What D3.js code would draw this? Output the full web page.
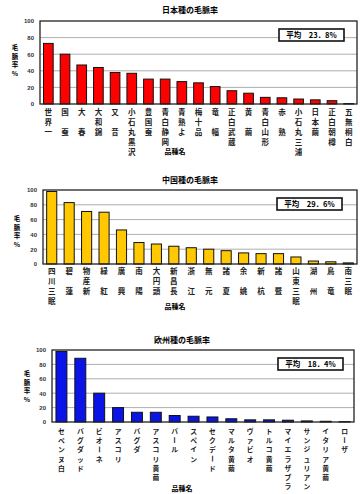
<!DOCTYPE html>
<html>
<head>
<meta charset="utf-8">
<script src="https://cdn.jsdelivr.net/npm/d3@7"></script>
<style>
  body { margin: 0; background: #fff; }
  svg { display: block; font-family: "Noto Sans CJK JP", sans-serif; }
</style>
</head>
<body>
<div id="chart"></div>
<script>
// data
const yTicks = [0, 20, 40, 60, 80, 100];

const jpNames = ["世界一", "国蚕", "大春", "大和錦", "又昔", "小石丸黒沢", "豊国蚕", "青白静岡", "青熟よ",
    "梅十品", "竜幅", "正白武蔵", "黄繭", "青白山形", "赤熟", "小石丸三浦", "日本繭", "正白朝樽", "五無桐白"];
const jpValues = [73, 60, 47, 44, 38, 37, 30, 30, 27, 25.5, 21, 16, 13, 8, 7.5, 6, 5, 4, 0.5];

const cnNames = ["四川三眠", "碧蓮", "物産新", "緑紅", "廣興", "南陽", "大円頭", "新昌長", "浙江",
    "無元", "諸夏", "余姚", "新杭", "諸暨", "山東三眠", "湖州", "鳥竜", "南三眠"];
const cnValues = [98, 83, 71, 70, 46, 29, 27, 24, 22, 20, 18, 15, 14, 14, 9.5, 4, 3, 1.5];

const euNames = ["セベンヌ白", "バグダッド", "ビオーネ", "アスコリ", "バグダ", "アスコリ黄繭", "バール",
    "スペイン", "セクデード", "マルタ黄繭", "ヴァビオ", "トルコ黄繭", "マイエラザブラ", "サンジュリアン",
    "イタリア黄繭", "ローザ"];
const euValues = [98, 88.5, 40, 20, 13.5, 13.5, 9, 8, 7, 4.5, 3, 3, 2.5, 1.5, 1, 0.5];

const averages = ["平均　23．8%", "平均　29．6%", "平均　18．4%"];
const titles = ["日本種の毛脈率", "中国種の毛脈率", "欧州種の毛脈率"];

const svg = d3.select("#chart").append("svg")
    .attr("width", 360)
    .attr("height", 494);

function drawPanel(p) {
    const g = svg.append("g");
    const x = d3.scaleBand().domain(p.names).range([p.left, p.right]).paddingInner(0.42).paddingOuter(0.21);
    const y = d3.scaleLinear().domain([0, 100]).range([p.bottom, p.top]);

    // title
    g.append("text")
        .attr("x", p.titleX).attr("y", p.titleY)
        .attr("text-anchor", "middle")
        .attr("font-size", 8).attr("font-weight", "bold")
        .text(p.title);

    // grid
    g.selectAll(".grid").data(yTicks.slice(1, -1)).enter().append("line")
        .attr("x1", p.left).attr("x2", p.right)
        .attr("y1", d => y(d)).attr("y2", d => y(d))
        .attr("stroke", "#999").attr("stroke-width", 0.8);

    // y axis
    const yAxis = g.append("g")
        .attr("transform", `translate(${p.left},0)`)
        .call(d3.axisLeft(y).tickValues(yTicks).tickSize(0).tickPadding(6));
    yAxis.select(".domain").remove();
    yAxis.selectAll("text").attr("font-size", 6).attr("font-weight", "bold")
        .attr("font-family", "Liberation Sans, sans-serif").attr("fill", "#333");

    // bars
    g.selectAll(".bar").data(p.values).enter().append("rect")
        .attr("x", (d, i) => x(p.names[i]))
        .attr("y", d => y(d))
        .attr("width", x.bandwidth())
        .attr("height", d => y(0) - y(d))
        .attr("fill", p.color)
        .attr("stroke", "#111").attr("stroke-width", 1);

    // frame
    g.append("rect")
        .attr("x", p.left).attr("y", p.top)
        .attr("width", p.right - p.left).attr("height", p.bottom - p.top)
        .attr("fill", "none").attr("stroke", "#222").attr("stroke-width", 1.3);

    // average box
    g.append("rect")
        .attr("x", p.boxX).attr("y", p.boxY).attr("width", 65).attr("height", 12)
        .attr("fill", "#fff").attr("stroke", "#111").attr("stroke-width", 1.6);
    g.append("text")
        .attr("x", p.boxX + 32.5).attr("y", p.boxY + 9)
        .attr("text-anchor", "middle")
        .attr("font-size", 7.5).attr("font-weight", "bold")
        .text(p.average);

    // vertical category labels, one character per row
    p.names.forEach(name => {
        const chars = Array.from(name);
        const rows = chars.length === 2 ? [0, 2] : chars.map((c, i) => i);
        const cx = x(name) + x.bandwidth() / 2;
        chars.forEach((c, i) => {
            const cy = p.labelY + rows[i] * p.rowStep;
            const t = g.append("text")
                .attr("text-anchor", "middle")
                .attr("font-size", p.labelSize).attr("font-weight", "bold")
                .attr("fill", "#222")
                .text(c);
            if (c === "ー") {
                t.attr("transform", `translate(${cx},${cy - 3}) rotate(90)`).attr("dy", "0.35em");
            } else {
                t.attr("x", cx).attr("y", cy);
            }
        });
    });

    // x axis title
    g.append("text")
        .attr("x", p.xTitleX).attr("y", p.xTitleY)
        .attr("text-anchor", "middle")
        .attr("font-size", 7).attr("font-weight", "bold")
        .text("品種名");

    // y axis title, stacked
    Array.from("毛脈率%").forEach((c, i) => {
        g.append("text")
            .attr("x", p.yTitleX).attr("y", p.yTitleY + i * 8.5)
            .attr("text-anchor", "middle")
            .attr("font-size", 6.5).attr("font-weight", "bold")
            .text(c);
    });
}

drawPanel({
    title: titles[0], names: jpNames, values: jpValues, average: averages[0], color: "#ff0000",
    left: 40, right: 357, top: 21, bottom: 104,
    titleX: 190, titleY: 13, boxX: 279, boxY: 29,
    labelY: 115, rowStep: 10, labelSize: 7.5, xTitleX: 175, xTitleY: 154, yTitleX: 15, yTitleY: 50
});

drawPanel({
    title: titles[1], names: cnNames, values: cnValues, average: averages[1], color: "#ffc800",
    left: 43, right: 357, top: 190, bottom: 264,
    titleX: 190, titleY: 183, boxX: 277, boxY: 198,
    labelY: 274, rowStep: 10, labelSize: 7.5, xTitleX: 175, xTitleY: 309, yTitleX: 17, yTitleY: 221
});

drawPanel({
    title: titles[2], names: euNames, values: euValues, average: averages[2], color: "#0a14e6",
    left: 52, right: 354, top: 350, bottom: 422,
    titleX: 182, titleY: 343, boxX: 278, boxY: 358,
    labelY: 434, rowStep: 9.2, labelSize: 6.8, xTitleX: 182, xTitleY: 491, yTitleX: 27, yTitleY: 376
});
</script>
</body>
</html>
